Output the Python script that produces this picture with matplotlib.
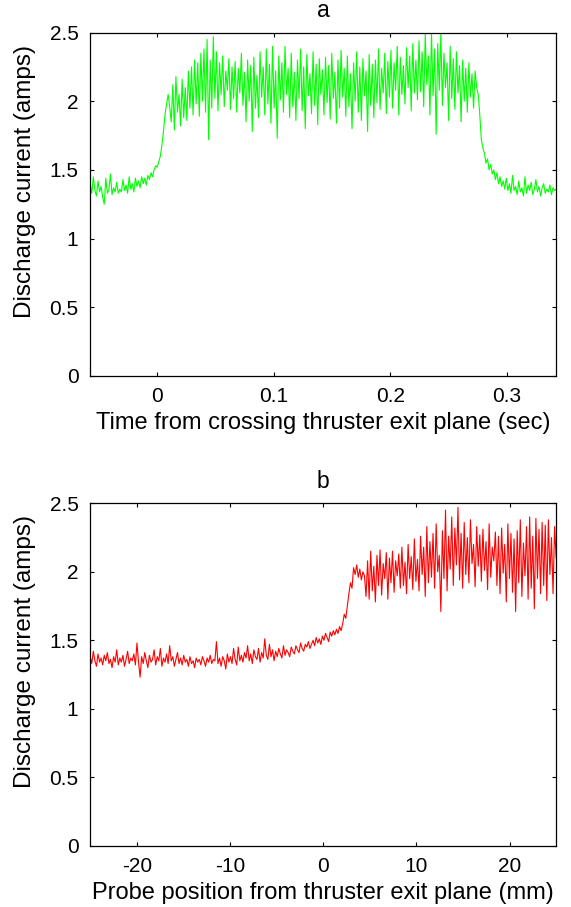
import numpy as np
import matplotlib
matplotlib.use('Agg')
import matplotlib.pyplot as plt

plt.rcParams['font.family'] = ['Liberation Sans', 'DejaVu Sans']
plt.rcParams['axes.unicode_minus'] = False

# (a) discharge current vs time
time_range = (-0.057, 0.342)
current_a = [
    # baseline
    1.40, 1.33, 1.45, 1.35, 1.31, 1.42, 1.34, 1.38, 1.30, 1.25,
    1.44, 1.33, 1.36, 1.47, 1.32, 1.37, 1.34, 1.41, 1.33, 1.36,
    1.34, 1.43, 1.35, 1.39, 1.33, 1.45, 1.36, 1.40, 1.34, 1.44,
    1.38, 1.42, 1.37, 1.45, 1.40, 1.44, 1.39, 1.46, 1.43, 1.48,
    1.45, 1.50, 1.53,
    # rise
    1.52, 1.56, 1.60, 1.68, 1.78, 1.90, 1.98, 2.05, 1.96,
    # plateau
    1.85, 2.12, 1.79, 2.18, 1.92, 2.05, 1.82, 2.16, 1.88, 2.10,
    1.86, 2.22, 1.95, 2.25, 1.90, 2.30, 1.98, 2.28, 1.89, 2.35,
    2.00, 2.38, 1.92, 2.45, 1.72, 2.30, 1.95, 2.47, 2.02, 2.36,
    1.93, 2.28, 2.05, 2.33, 1.96, 2.22, 2.08, 2.31, 1.94, 2.25,
    2.02, 2.29, 1.92, 2.24, 2.06, 2.35, 1.97, 2.21, 1.85, 2.30,
    2.00, 2.26, 1.78, 2.32, 1.95, 2.19, 1.88, 2.36, 2.03, 2.25,
    1.90, 2.38, 1.98, 2.27, 1.84, 2.40, 1.95, 2.22, 1.73, 2.33,
    2.01, 2.28, 1.92, 2.40, 2.05, 2.24, 1.88, 2.35, 1.96, 2.21,
    1.86, 2.30, 2.02, 2.38, 1.93, 2.25, 1.80, 2.34, 2.04, 2.20,
    1.91, 2.36, 1.97, 2.27, 1.83, 2.31, 2.05, 2.23, 1.90, 2.32,
    1.99, 2.26, 1.87, 2.35, 2.02, 2.21, 1.84, 2.30, 1.95, 2.37,
    2.03, 2.24, 1.89, 2.33, 1.96, 2.20, 1.80, 2.28, 2.00, 2.36,
    1.92, 2.25, 1.86, 2.31, 2.04, 2.22, 1.78, 2.34, 1.97, 2.27,
    1.88, 2.30, 1.99, 2.38, 1.94, 2.24, 2.06, 2.35, 1.91, 2.29,
    2.03, 2.37, 1.95, 2.28, 2.08, 2.40, 1.90, 2.32, 2.05, 2.26,
    1.98, 2.39, 2.10, 2.33, 1.93, 2.42, 2.06, 2.30, 2.01, 2.44,
    2.07, 2.36, 1.96, 2.49, 2.12, 2.33, 1.90, 2.50, 2.04, 2.38,
    1.76, 2.42, 2.08, 2.50, 1.97, 2.35, 2.10, 2.28, 1.86, 2.40,
    2.02, 2.31, 1.94, 2.36, 2.06, 2.26, 1.85, 2.30, 2.00, 2.24,
    1.92, 2.28, 2.03, 2.20, 1.95, 2.22, 2.10, 2.05,
    # fall
    1.90, 1.72, 1.66, 1.62, 1.55, 1.58, 1.50, 1.54, 1.47, 1.50,
    1.43, 1.48, 1.40, 1.45, 1.38, 1.42, 1.36, 1.44, 1.35,
    # tail
    1.40, 1.33, 1.46, 1.35, 1.38, 1.32, 1.42, 1.34, 1.37, 1.31,
    1.45, 1.33, 1.39, 1.35, 1.41, 1.32, 1.36, 1.43, 1.34, 1.38,
    1.31, 1.37, 1.40, 1.33, 1.36, 1.34, 1.39, 1.32, 1.37, 1.35,
    1.36,
]

# (b) discharge current vs probe position
pos_range = (-25.0, 25.0)
current_b = [
    # baseline
    1.38, 1.33, 1.42, 1.35, 1.31, 1.40, 1.34, 1.37, 1.32, 1.39,
    1.35, 1.41, 1.33, 1.36, 1.30, 1.38, 1.34, 1.43, 1.32, 1.37,
    1.34, 1.39, 1.31, 1.36, 1.42, 1.33, 1.37, 1.35, 1.40, 1.32,
    1.48, 1.34, 1.23, 1.38, 1.33, 1.41, 1.35, 1.30, 1.39, 1.34,
    1.36, 1.43, 1.32, 1.38, 1.35, 1.44, 1.31, 1.37, 1.34, 1.40,
    1.33, 1.46, 1.35, 1.38, 1.31, 1.36, 1.41, 1.33, 1.37, 1.32,
    1.39, 1.34, 1.36, 1.31, 1.38, 1.33, 1.35, 1.30, 1.37, 1.34,
    1.36, 1.32, 1.38, 1.35, 1.31, 1.37, 1.34, 1.39, 1.33, 1.36,
    1.35, 1.49, 1.33, 1.37, 1.31, 1.38, 1.35, 1.29, 1.40, 1.34,
    1.38, 1.33, 1.44, 1.36, 1.32, 1.45, 1.35, 1.39, 1.34, 1.41,
    1.37, 1.46, 1.35, 1.40, 1.33, 1.43, 1.38, 1.36, 1.44, 1.34,
    1.41, 1.37, 1.51, 1.39, 1.36, 1.47, 1.38, 1.43, 1.35, 1.42,
    # slow rise
    1.38, 1.44, 1.40, 1.37, 1.46, 1.39, 1.43, 1.41, 1.38, 1.45,
    1.42, 1.40, 1.46, 1.43, 1.41, 1.48, 1.44, 1.42, 1.47, 1.45,
    1.49, 1.44, 1.47, 1.50, 1.46, 1.52, 1.48, 1.51, 1.47, 1.53,
    1.50, 1.55, 1.52, 1.49, 1.56, 1.53, 1.57, 1.54, 1.58, 1.55,
    1.60, 1.57,
    # steep rise
    1.62, 1.69, 1.66, 1.75, 1.84, 1.92, 1.88, 2.03, 1.98,
    # plateau
    2.05, 1.96, 2.02, 1.94, 2.00, 1.97, 1.82, 2.08, 1.80, 2.15,
    1.86, 2.04, 1.78, 2.12, 1.90, 2.16, 1.83, 2.06, 1.95, 2.14,
    1.80, 2.10, 1.92, 2.15, 1.85, 2.08, 1.97, 2.13, 1.88, 2.18,
    1.90, 2.07, 1.84, 2.20, 1.95, 2.11, 1.87, 2.24, 1.93, 2.09,
    1.86, 2.26, 1.98, 2.18, 1.82, 2.33, 1.92, 2.22, 1.96, 2.28,
    1.88, 2.35, 2.00, 2.12, 1.71, 2.30, 1.95, 2.45, 1.86, 2.26,
    2.02, 2.40, 1.90, 2.32, 2.05, 2.47, 1.94, 2.28, 1.88, 2.36,
    1.98, 2.25, 1.92, 2.38, 2.06, 2.20, 1.89, 2.33, 2.04, 2.27,
    1.93, 2.31, 2.01, 2.22, 1.87, 2.35, 1.96, 2.18, 2.08, 2.29,
    1.90, 2.26, 1.84, 2.32, 1.99, 2.20, 1.78, 2.35, 1.95, 2.28,
    1.85, 2.24, 1.71, 2.30, 1.92, 2.38, 1.82, 2.21, 1.97, 2.33,
    1.80, 2.40, 1.88, 2.26, 1.73, 2.39, 1.95, 2.31, 1.84, 2.36,
    1.90, 2.34, 1.79, 2.38, 1.98, 2.25, 1.84, 2.33, 2.10,
]

time_s = np.linspace(time_range[0], time_range[1], len(current_a))
pos_mm = np.linspace(pos_range[0], pos_range[1], len(current_b))

fig = plt.figure(figsize=(5.71, 9.07), dpi=100)
ax1 = fig.add_axes([0.158, 0.5855, 0.816, 0.3786])
ax2 = fig.add_axes([0.158, 0.0676, 0.816, 0.3775])


def style(ax, title, xlabel):
    ax.set_title(title, fontsize=16.5, pad=11)
    ax.set_xlabel(xlabel, fontsize=17, labelpad=4.5)
    ax.set_ylabel('Discharge current (amps)', fontsize=17.5)
    ax.yaxis.set_label_coords(-0.116, 0.566)
    ax.set_ylim(0, 2.5)
    ax.set_yticks([0, 0.5, 1, 1.5, 2, 2.5])
    ax.set_yticklabels(['0', '0.5', '1', '1.5', '2', '2.5'])
    ax.tick_params(direction='in', top=True, right=True, length=3,
                   width=0.8, labelsize=15)
    ax.tick_params(axis='x', pad=8)
    ax.tick_params(axis='y', pad=8.5)
    for s in ax.spines.values():
        s.set_linewidth(0.9)


ax1.plot(time_s, current_a, color='#00ff00', linewidth=0.8)
ax1.set_xlim(*time_range)
ax1.set_xticks([0, 0.1, 0.2, 0.3])
ax1.set_xticklabels(['0', '0.1', '0.2', '0.3'])
style(ax1, 'a', 'Time from crossing thruster exit plane (sec)')

ax2.plot(pos_mm, current_b, color='#ff0000', linewidth=0.8)
ax2.set_xlim(*pos_range)
ax2.set_xticks([-20, -10, 0, 10, 20])
style(ax2, 'b', 'Probe position from thruster exit plane (mm)')

fig.savefig('out.png', dpi=100)
